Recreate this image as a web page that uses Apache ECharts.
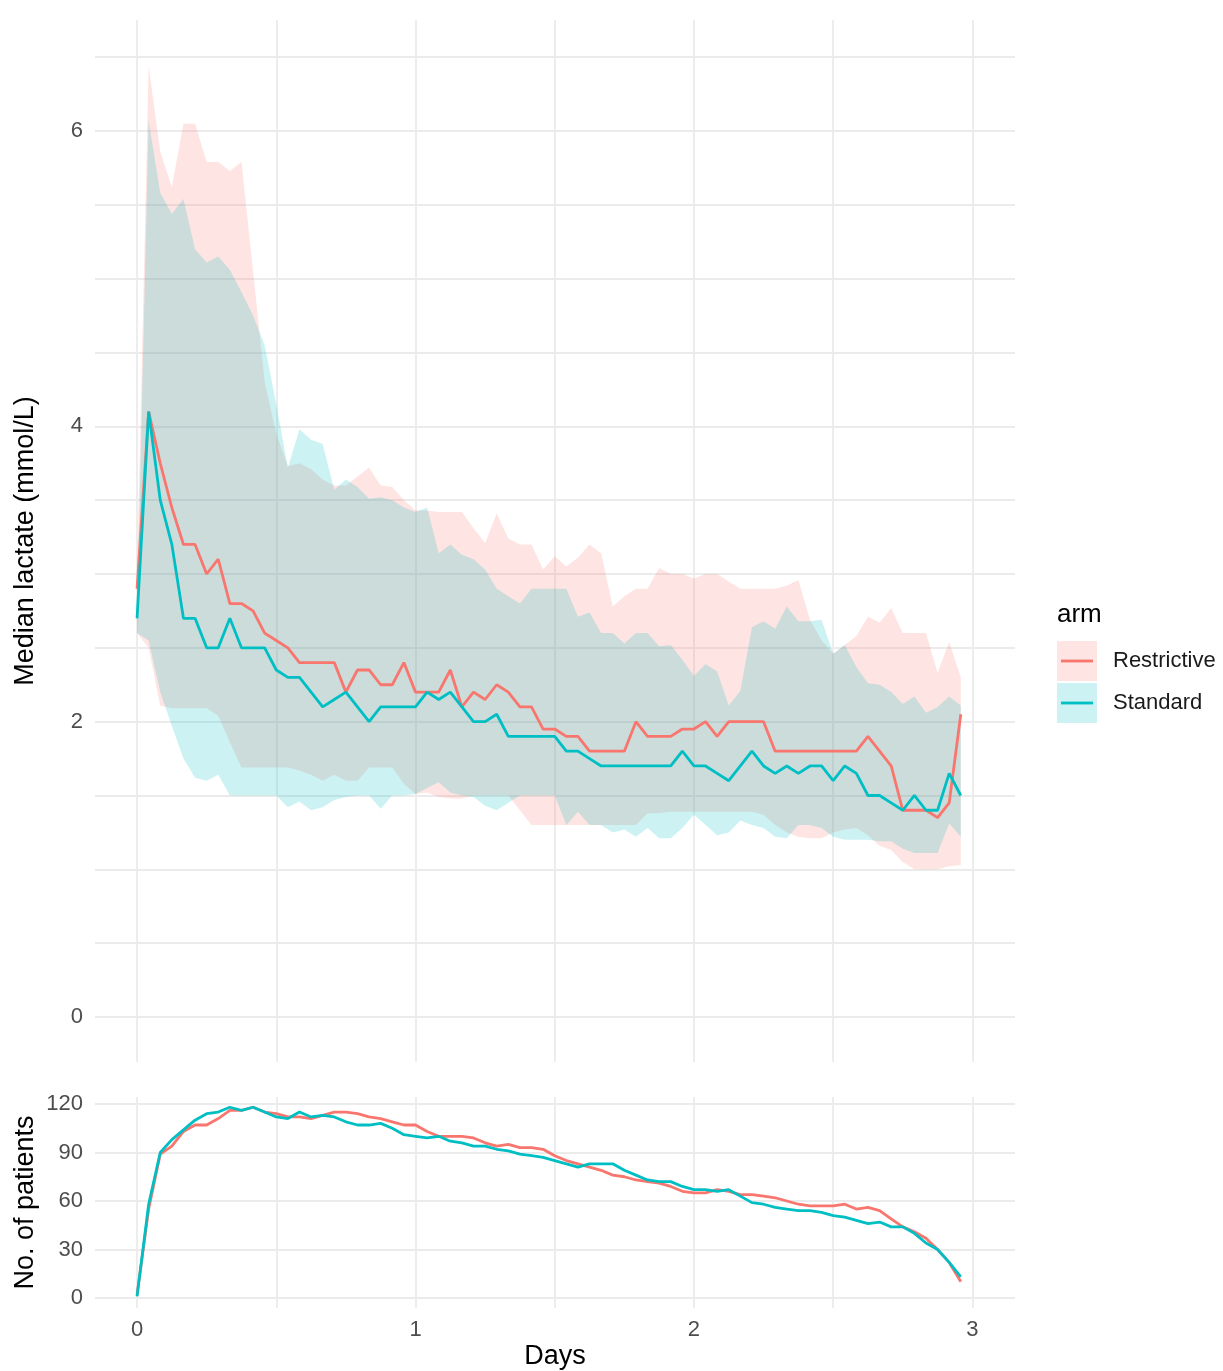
<!DOCTYPE html>
<html><head><meta charset="utf-8">
<script src="https://cdn.jsdelivr.net/npm/echarts@6/dist/echarts.min.js"></script>
<style>html,body{margin:0;padding:0;background:#fff}#c{width:1223px;height:1371px}</style>
</head><body><div id="c"></div>
<script>
// ---- data (hours since start) ----
const hours = [0,1,2,3,4,5,6,7,8,9,10,11,12,13,14,15,16,17,18,19,20,21,22,23,24,25,26,27,28,29,30,31,32,33,34,35,36,37,38,39,40,41,42,43,44,45,46,47,48,49,50,51,52,53,54,55,56,57,58,59,60,61,62,63,64,65,66,67,68,69,70,71];

const restrictiveMedian = [2.90,4.10,3.75,3.45,3.20,3.20,3.00,3.10,2.80,2.80,2.75,2.60,2.55,2.50,2.40,2.40,2.40,2.40,2.20,2.35,2.35,2.25,2.25,2.40,2.20,2.20,2.20,2.35,2.10,2.20,2.15,2.25,2.20,2.10,2.10,1.95,1.95,1.90,1.90,1.80,1.80,1.80,1.80,2.00,1.90,1.90,1.90,1.95,1.95,2.00,1.90,2.00,2.00,2.00,2.00,1.80,1.80,1.80,1.80,1.80,1.80,1.80,1.80,1.90,1.80,1.70,1.40,1.40,1.40,1.35,1.45,2.05];
const standardMedian = [2.70,4.10,3.50,3.20,2.70,2.70,2.50,2.50,2.70,2.50,2.50,2.50,2.35,2.30,2.30,2.20,2.10,2.15,2.20,2.10,2.00,2.10,2.10,2.10,2.10,2.20,2.15,2.20,2.10,2.00,2.00,2.05,1.90,1.90,1.90,1.90,1.90,1.80,1.80,1.75,1.70,1.70,1.70,1.70,1.70,1.70,1.70,1.80,1.70,1.70,1.65,1.60,1.70,1.80,1.70,1.65,1.70,1.65,1.70,1.70,1.60,1.70,1.65,1.50,1.50,1.45,1.40,1.50,1.40,1.40,1.65,1.50];

const restrictiveUpper = [3.00,6.44,5.86,5.62,6.05,6.05,5.79,5.79,5.73,5.79,5.05,4.30,3.95,3.73,3.75,3.71,3.64,3.60,3.60,3.66,3.72,3.60,3.59,3.50,3.43,3.43,3.42,3.42,3.42,3.31,3.21,3.41,3.24,3.20,3.20,3.03,3.12,3.05,3.11,3.20,3.14,2.78,2.85,2.90,2.90,3.04,3.00,3.00,2.97,3.00,3.00,2.95,2.90,2.90,2.90,2.90,2.92,2.96,2.69,2.55,2.46,2.52,2.58,2.71,2.67,2.77,2.60,2.60,2.60,2.33,2.54,2.30];
const restrictiveLower = [2.60,2.50,2.11,2.09,2.09,2.09,2.09,2.04,1.86,1.69,1.69,1.69,1.69,1.69,1.67,1.64,1.60,1.64,1.60,1.60,1.69,1.69,1.69,1.58,1.51,1.52,1.49,1.48,1.48,1.50,1.50,1.50,1.50,1.40,1.30,1.30,1.30,1.30,1.30,1.30,1.30,1.30,1.30,1.30,1.38,1.38,1.39,1.39,1.39,1.39,1.39,1.39,1.39,1.39,1.37,1.30,1.25,1.22,1.21,1.21,1.25,1.27,1.28,1.23,1.16,1.13,1.05,1.00,1.00,1.00,1.02,1.03];
const standardUpper = [2.75,6.07,5.58,5.44,5.54,5.20,5.11,5.15,5.06,4.91,4.75,4.55,4.15,3.72,3.98,3.91,3.88,3.57,3.64,3.59,3.51,3.52,3.50,3.45,3.42,3.45,3.14,3.20,3.13,3.10,3.03,2.90,2.85,2.80,2.90,2.90,2.90,2.90,2.71,2.74,2.60,2.60,2.53,2.60,2.60,2.51,2.52,2.42,2.31,2.39,2.34,2.11,2.21,2.64,2.68,2.63,2.78,2.68,2.68,2.69,2.46,2.52,2.37,2.26,2.25,2.20,2.12,2.17,2.06,2.10,2.17,2.11];
const standardLower = [2.60,2.55,2.20,1.97,1.75,1.62,1.60,1.64,1.50,1.50,1.50,1.50,1.50,1.42,1.46,1.40,1.42,1.47,1.49,1.50,1.50,1.41,1.50,1.50,1.51,1.55,1.59,1.52,1.50,1.49,1.43,1.40,1.45,1.50,1.50,1.50,1.50,1.30,1.39,1.30,1.30,1.25,1.27,1.22,1.28,1.21,1.21,1.28,1.37,1.30,1.23,1.25,1.33,1.30,1.28,1.22,1.21,1.30,1.30,1.28,1.22,1.20,1.20,1.20,1.19,1.19,1.14,1.11,1.11,1.11,1.31,1.22];

const restrictiveN = [2,55,89,94,103,107,107,111,116,116,118,115,114,112,112,111,113,115,115,114,112,111,109,107,107,103,100,100,100,99,96,94,95,93,93,92,88,85,83,81,79,76,75,73,72,71,69,66,65,65,67,66,64,64,63,62,60,58,57,57,57,58,55,56,54,49,44,41,37,30,22,10];
const standardN = [1,58,90,98,104,110,114,115,118,116,118,115,112,111,115,112,113,112,109,107,107,108,105,101,100,99,100,97,96,94,94,92,91,89,88,87,85,83,81,83,83,83,79,76,73,72,72,69,67,67,66,67,63,59,58,56,55,54,54,53,51,50,48,46,47,44,44,40,34,30,22,13];

const armNames = ['Restrictive','Standard'];
const xGridTicks = [0,0.5,1,1.5,2,2.5,3];
const xLabelTicks = [0,1,2,3];
const yTopGridTicks = [0,0.5,1,1.5,2,2.5,3,3.5,4,4.5,5,5.5,6,6.5];
const yTopLabelTicks = [0,2,4,6];
const yBottomTicks = [0,30,60,90,120];

// ---- styling ----
const RED = '#F8766D', CYAN = '#00BFC4';
const RED_FILL = 'rgba(248,118,109,0.2)', CYAN_FILL = 'rgba(0,191,196,0.2)';
const FONT = '"Liberation Sans", Arial, sans-serif';
const GRID_COL = '#EBEBEB';
const LW = 2.8;

const days = hours.map(h => h / 24);

function band(name, lo, hi, fill) {
  return {
    type: 'custom', name: name, xAxisIndex: 0, yAxisIndex: 0, z: 1, silent: true,
    data: days.map((d, i) => [d, lo[i], hi[i]]),
    encode: { x: 0, y: [1, 2] },
    renderItem: function (params, api) {
      if (params.dataIndex !== 0) return null;
      const pts = [];
      for (let i = 0; i < days.length; i++) pts.push(api.coord([days[i], hi[i]]));
      for (let i = days.length - 1; i >= 0; i--) pts.push(api.coord([days[i], lo[i]]));
      return { type: 'polygon', shape: { points: pts }, style: { fill: fill, stroke: null } };
    }
  };
}
function line(name, vals, color, xi, yi) {
  return {
    type: 'line', name: name, xAxisIndex: xi, yAxisIndex: yi, z: 3,
    data: days.map((d, i) => [d, vals[i]]),
    showSymbol: false, symbol: 'none',
    lineStyle: { color: color, width: LW }, itemStyle: { color: color }
  };
}

const splitStyle = { show: true, lineStyle: { color: GRID_COL, width: 1.8 } };
const tickLabel = { fontSize: 22, color: '#4D4D4D', fontFamily: FONT };

const option = {
  animation: false,
  backgroundColor: '#fff',
  grid: [
    { left: 95, top: 20, width: 920, height: 1042 },
    { left: 95, top: 1097, width: 920, height: 211 }
  ],
  xAxis: [
    { gridIndex: 0, type: 'value', min: -0.151, max: 3.153,
      axisLine: { show: false }, axisTick: { show: false, customValues: xGridTicks },
      axisLabel: { show: false }, splitLine: splitStyle },
    { gridIndex: 1, type: 'value', min: -0.151, max: 3.153,
      axisLine: { show: false }, axisTick: { show: false, customValues: xGridTicks },
      axisLabel: Object.assign({ show: true, margin: 11, customValues: xLabelTicks }, tickLabel),
      splitLine: splitStyle,
      name: 'Days', nameLocation: 'middle', nameGap: 35, nameMoveOverlap: false,
      nameTextStyle: { fontSize: 27, color: '#000', fontFamily: FONT } }
  ],
  yAxis: [
    { gridIndex: 0, type: 'value', min: -0.305, max: 6.752,
      axisLine: { show: false }, axisTick: { show: false, customValues: yTopGridTicks },
      axisLabel: Object.assign({ show: true, margin: 12, customValues: yTopLabelTicks }, tickLabel),
      splitLine: splitStyle,
      name: 'Median lactate (mmol/L)', nameLocation: 'middle', nameGap: 56, nameMoveOverlap: false,
      nameTextStyle: { fontSize: 27, color: '#000', fontFamily: FONT } },
    { gridIndex: 1, type: 'value', min: -6.19, max: 124.33,
      axisLine: { show: false }, axisTick: { show: false, customValues: yBottomTicks },
      axisLabel: Object.assign({ show: true, margin: 12, customValues: yBottomTicks }, tickLabel),
      splitLine: splitStyle,
      name: 'No. of patients', nameLocation: 'middle', nameGap: 56, nameMoveOverlap: false,
      nameTextStyle: { fontSize: 27, color: '#000', fontFamily: FONT } }
  ],
  series: [
    band(armNames[0], restrictiveLower, restrictiveUpper, RED_FILL),
    band(armNames[1], standardLower, standardUpper, CYAN_FILL),
    line(armNames[0], restrictiveMedian, RED, 0, 0),
    line(armNames[1], standardMedian, CYAN, 0, 0),
    line(armNames[0], restrictiveN, RED, 1, 1),
    line(armNames[1], standardN, CYAN, 1, 1)
  ],
  graphic: [
    { type: 'text', left: 1057, top: 602, style: { text: 'arm', fontSize: 26, fill: '#000', fontFamily: FONT } },
    { type: 'rect', shape: { x: 1057, y: 641, width: 40, height: 40 }, style: { fill: RED_FILL } },
    { type: 'line', shape: { x1: 1061, y1: 661, x2: 1093, y2: 661 }, style: { stroke: RED, lineWidth: LW } },
    { type: 'rect', shape: { x: 1057, y: 683, width: 40, height: 40 }, style: { fill: CYAN_FILL } },
    { type: 'line', shape: { x1: 1061, y1: 703, x2: 1093, y2: 703 }, style: { stroke: CYAN, lineWidth: LW } },
    { type: 'text', x: 1113, y: 661, style: { text: armNames[0], fontSize: 22, fill: '#1a1a1a', fontFamily: FONT, verticalAlign: 'middle' } },
    { type: 'text', x: 1113, y: 703, style: { text: armNames[1], fontSize: 22, fill: '#1a1a1a', fontFamily: FONT, verticalAlign: 'middle' } }
  ]
};
const chart = echarts.init(document.getElementById('c'), null, { renderer: 'canvas' });
chart.setOption(option);
</script>
</body></html>
